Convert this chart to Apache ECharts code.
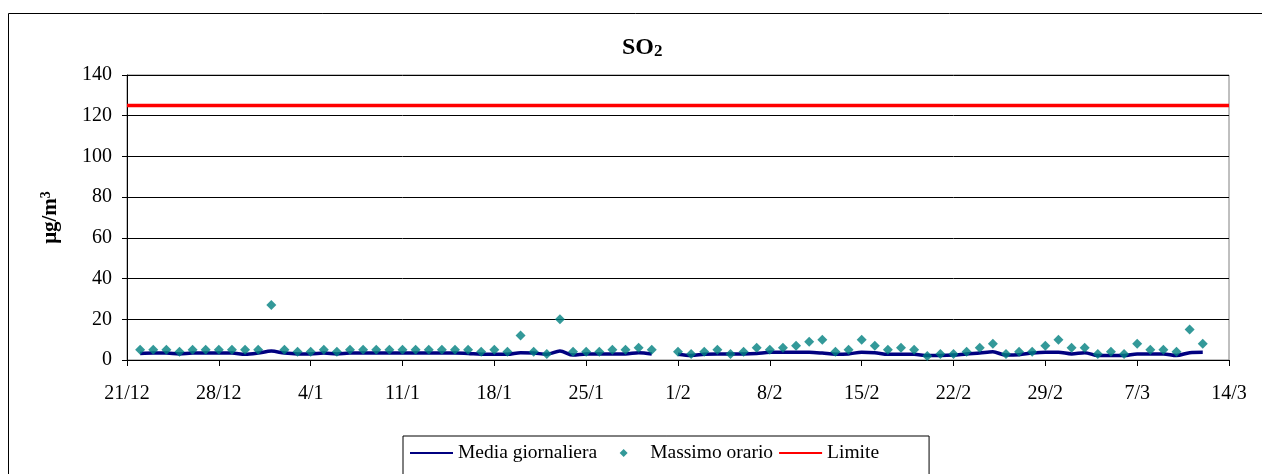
<!DOCTYPE html>
<html>
<head>
<meta charset="utf-8">
<script src="https://cdn.jsdelivr.net/npm/echarts@6/dist/echarts.min.js"></script>
<style>
  html, body { margin: 0; padding: 0; background: #fff; }
  #chart { width: 1262px; height: 474px; }
</style>
</head>
<body>
<div id="chart"></div>
<script>
// giorni dal 21/12 al 14/3 (anno bisestile)
const months = [[12, 21, 31], [1, 1, 31], [2, 1, 29], [3, 1, 14]];
const dates = [];
months.forEach(([m, from, to]) => {
  for (let d = from; d <= to; d++) dates.push(d + "/" + m);
});

const mediaGiornaliera = [
  null,
  3.2, 3.4, 3.4, 3.0, 3.4, 3.4, 3.4, 3.4, 2.8, 3.4,
  4.4,
  3.4, 3.0, 3.0, 3.4, 3.0,
  3.4, 3.4, 3.4, 3.4, 3.4, 3.4, 3.4, 3.4, 3.4, 3.2,
  2.8, 2.8, 2.8, 3.6, 3.4, 2.8, 4.4, 2.4, 3.0, 3.0, 3.0, 3.0, 3.6, 3.0,
  null,
  2.8, 2.2, 2.8, 3.0, 3.0, 3.0, 3.2, 3.8, 3.8, 3.8,
  3.8, 3.4, 2.8, 3.0, 3.8, 3.6, 2.8, 2.8, 2.8, 2.2,
  2.2, 2.4, 3.0, 3.4, 4.0, 2.4, 2.6, 3.4, 3.8, 3.8,
  3.0, 3.6, 2.2, 2.2, 2.2, 3.0, 3.0, 3.0, 2.2, 3.6,
  3.8,
  null, null
];

const massimoOrario = [
  null,
  5, 5, 5, 4, 5, 5, 5, 5, 5, 5,
  27,
  5, 4, 4, 5, 4,
  5, 5, 5, 5, 5, 5, 5, 5, 5, 5,
  4, 5, 4, 12, 4, 3, 20, 4, 4, 4, 5, 5, 6, 5,
  null,
  4, 3, 4, 5, 3, 4, 6, 5, 6, 7,
  9, 10, 4, 5, 10, 7, 5, 6, 5, 2,
  3, 3, 4, 6, 8, 3, 4, 4, 7, 10,
  6, 6, 3, 4, 3, 8, 5, 5, 4, 15,
  8,
  null, null
];

const limite = dates.map(() => 125);

const font = "'Liberation Serif', 'Times New Roman', serif";

const chart = echarts.init(document.getElementById("chart"));

chart.setOption({
  animation: false,
  textStyle: { fontFamily: font, color: "#000" },
  title: {
    text: "{a|SO}{b|2}",
    left: 617,
    top: 31,
    textStyle: {
      rich: {
        a: { fontFamily: font, fontSize: 24, fontWeight: "bold", color: "#000" },
        b: { fontFamily: font, fontSize: 17, fontWeight: "bold", color: "#000", verticalAlign: "bottom", padding: [5, 0, 0, 0] },
      },
    },
  },
  graphic: [
    {
      type: "rect",
      shape: { x: 8.5, y: 13.5, width: 1300, height: 500 },
      style: { fill: "none", stroke: "#000", lineWidth: 1 },
      silent: true,
    },
  ],
  grid: {
    left: 127,
    right: 33,
    top: 75,
    bottom: 114,
    show: true,
    borderColor: "#808080",
    borderWidth: 1,
  },
  legend: {
    left: 403,
    top: 436,
    padding: [7, 50, 20, 6],
    itemGap: 5,
    itemWidth: 43,
    itemHeight: 8,
    symbolKeepAspect: false,
    borderColor: "#000",
    borderWidth: 1,
    textStyle: { fontFamily: font, fontSize: 19.5, color: "#000" },
    data: [
      { name: "Media giornaliera", itemStyle: { opacity: 0 } },
      { name: "Massimo orario", icon: "path://M0,4L0.01,4L0,4.01ZM21.5,0L25.5,4L21.5,8L17.5,4ZM42.99,4L43,4L43,4.01Z" },
      { name: "Limite", itemStyle: { opacity: 0 } },
    ],
  },
  xAxis: {
    type: "category",
    data: dates,
    boundaryGap: false,
    axisLine: { lineStyle: { color: "#000", width: 1 } },
    axisTick: { interval: 6, length: 6, lineStyle: { color: "#000" } },
    axisLabel: {
      interval: 6,
      margin: 24,
      fontFamily: font,
      fontSize: 20,
      color: "#000",
    },
    splitLine: { show: false },
  },
  yAxis: {
    type: "value",
    min: 0,
    max: 140,
    interval: 20,
    name: "{a|μg/m}{b|3}",
    nameLocation: "middle",
    nameGap: 64,
    nameTextStyle: {
      rich: {
        a: { fontFamily: font, fontSize: 21, fontWeight: "bold", color: "#000" },
        b: { fontFamily: font, fontSize: 14, fontWeight: "bold", color: "#000", verticalAlign: "top", padding: [0, 0, 10, 0] },
      },
    },
    axisLine: { show: true, lineStyle: { color: "#000", width: 1 } },
    axisTick: { show: true, length: 5, lineStyle: { color: "#000" } },
    axisLabel: { margin: 15, fontFamily: font, fontSize: 20, color: "#000" },
    splitLine: { lineStyle: { color: "#000", width: 1 } },
  },
  series: [
    {
      name: "Media giornaliera",
      type: "line",
      data: mediaGiornaliera,
      smooth: 0.3,
      symbol: "none",
      connectNulls: false,
      lineStyle: { color: "#000080", width: 3.5 },
      itemStyle: { color: "#000080" },
      z: 3,
    },
    {
      name: "Massimo orario",
      type: "scatter",
      data: massimoOrario,
      symbol: "diamond",
      symbolSize: 10,
      itemStyle: { color: "#008080" },
      z: 4,
    },
    {
      name: "Limite",
      type: "line",
      data: limite,
      symbol: "none",
      lineStyle: { color: "#ff0000", width: 3.5 },
      itemStyle: { color: "#ff0000" },
      z: 2,
    },
  ],
});
</script>
</body>
</html>
